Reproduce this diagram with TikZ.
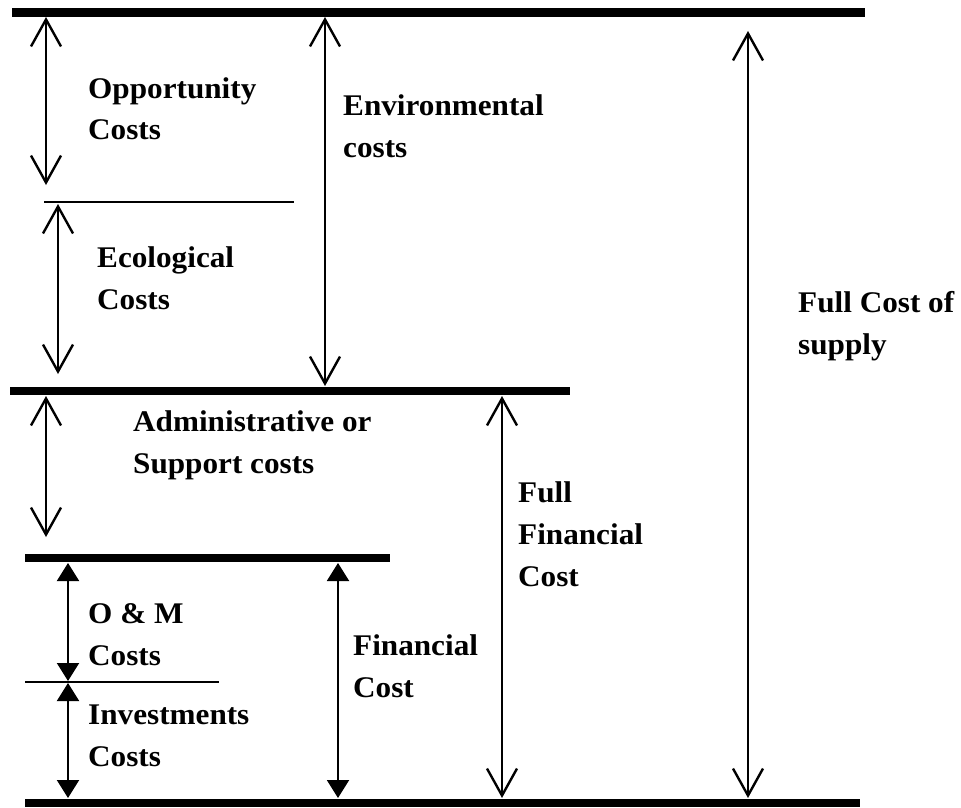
\documentclass[tikz,border=0pt]{standalone}
\usepackage{fontspec}
\setmainfont{Liberation Serif}[FakeStretch=1.04]
\usetikzlibrary{arrows.meta}
\newcommand\mylines[1]{\vtop{\baselineskip=42pt\lineskiplimit=-100pt #1}}
\tikzset{
  barb/.style={line width=2pt,
    {Straight Barb[length=27pt,width=30pt,line width=2.4pt]}-{Straight Barb[length=27pt,width=30pt,line width=2.4pt]}},
  tri/.style={line width=2pt,
    {Triangle[length=18pt,width=22pt]}-{Triangle[length=18pt,width=22pt]}},
  thickbar/.style={line width=8.5pt},
  thinbar/.style={line width=2.5pt},
  lbl/.style={anchor=base west, inner sep=0pt, font=\fontsize{30}{42}\selectfont\bfseries}
}
\begin{document}
\begin{tikzpicture}[x=1pt,y=-1pt]
\useasboundingbox (0,0) rectangle (961,808);
% horizontal levels
\coordinate (t1) at (12,12.5);   \coordinate (t2) at (865,12.5);
\coordinate (e1) at (44,202);    \coordinate (e2) at (294,202);
\coordinate (m1) at (10,391);    \coordinate (m2) at (570,391);
\coordinate (f1) at (25,558);    \coordinate (f2) at (390,558);
\coordinate (i1) at (25,682);    \coordinate (i2) at (219,682);
\coordinate (b1) at (25,803);    \coordinate (b2) at (860,803);
\draw[thickbar] (t1) -- (t2);
\draw[thinbar] (e1) -- (e2);
\draw[thickbar] (m1) -- (m2);
\draw[thickbar] (f1) -- (f2);
\draw[thinbar] (i1) -- (i2);
\draw[thickbar] (b1) -- (b2);
% arrow ends
\coordinate (oppT) at (46,17);   \coordinate (oppB) at (46,185);
\coordinate (envT) at (325,17);  \coordinate (envB) at (325,386);
\coordinate (ecoT) at (58,204);  \coordinate (ecoB) at (58,374);
\coordinate (admT) at (46,396);  \coordinate (admB) at (46,537);
\coordinate (ffT) at (502,396);  \coordinate (ffB) at (502,798);
\coordinate (fcT) at (748,31);   \coordinate (fcB) at (748,798);
\coordinate (omT) at (68,563);   \coordinate (omB) at (68,681);
\coordinate (invT) at (68,683);  \coordinate (invB) at (68,798);
\coordinate (finT) at (338,563); \coordinate (finB) at (338,798);
\draw[barb] (oppT) -- (oppB);
\draw[barb] (envT) -- (envB);
\draw[barb] (ecoT) -- (ecoB);
\draw[barb] (admT) -- (admB);
\draw[barb] (ffT) -- (ffB);
\draw[barb] (fcT) -- (fcB);
\draw[tri] (omT) -- (omB);
\draw[tri] (invT) -- (invB);
\draw[tri] (finT) -- (finB);
% labels
\node[lbl] (opp) at (88,98) {\mylines{\hbox{Opportunity}\hbox{Costs}}};
\node[lbl] (env) at (343,115) {\mylines{\hbox{Environmental}\hbox{costs}}};
\node[lbl] (eco) at (97,267) {\mylines{\hbox{Ecological}\hbox{Costs}}};
\node[lbl] (fc) at (798,312) {\mylines{\hbox{Full Cost of}\hbox{supply}}};
\node[lbl] (adm) at (133,431) {\mylines{\hbox{Administrative or}\hbox{Support costs}}};
\node[lbl] (ff) at (518,502) {\mylines{\hbox{Full}\hbox{Financial}\hbox{Cost}}};
\node[lbl] (fin) at (353,655) {\mylines{\hbox{Financial}\hbox{Cost}}};
\node[lbl] (om) at (88,623) {\mylines{\hbox{O \& M}\hbox{Costs}}};
\node[lbl] (inv) at (88,724) {\mylines{\hbox{Investments}\hbox{Costs}}};
\end{tikzpicture}
\end{document}
